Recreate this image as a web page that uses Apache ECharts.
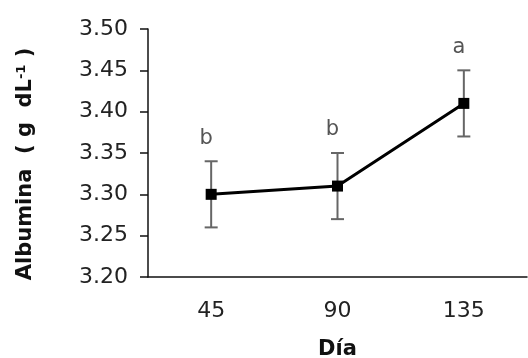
<!DOCTYPE html>
<html>
<head>
<meta charset="utf-8">
<script src="https://cdn.jsdelivr.net/npm/echarts@6/dist/echarts.min.js"></script>
<style>
  html, body { margin: 0; padding: 0; background: #fff; }
  #chart { width: 528px; height: 358px; }
</style>
</head>
<body>
<div id="chart"></div>
<script>
var days = ['45', '90', '135'];
var albumina = [3.30, 3.31, 3.41];
var errLow = [3.26, 3.27, 3.37];
var errHigh = [3.34, 3.35, 3.45];
var letters = ['b', 'b', 'a'];

var chart = echarts.init(document.getElementById('chart'));

var errData = days.map(function (d, i) {
    return [i, errLow[i], errHigh[i], letters[i]];
});

option = {
    animation: false,
    textStyle: { fontFamily: 'DejaVu Sans' },
    grid: { left: 148, right: 1, top: 29, bottom: 81, outerBoundsMode: 'none', containLabel: false },
    xAxis: {
        type: 'category',
        data: days,
        boundaryGap: true,
        name: 'Día',
        nameLocation: 'middle',
        nameGap: 62,
        nameTextStyle: { fontSize: 21, fontWeight: 'bold', color: '#111' },
        axisLine: { lineStyle: { color: '#111', width: 1.5 } },
        axisTick: { length: 8, lineStyle: { color: '#111', width: 1.5 } },
        axisLabel: { fontSize: 22, color: '#222', margin: 23 }
    },
    yAxis: {
        type: 'value',
        min: 3.20,
        max: 3.50,
        interval: 0.05,
        name: '{n|Albumina  ( g  dL}{s|-1}{n| )}{n|   }',
        nameLocation: 'middle',
        nameGap: 112,
        nameRotate: 90,
        nameTextStyle: {
            rich: {
                n: { fontSize: 21, fontWeight: 'bold', color: '#111', fontFamily: 'DejaVu Sans' },
                s: { fontSize: 13, fontWeight: 'bold', color: '#111', fontFamily: 'DejaVu Sans', verticalAlign: 'top', padding: [0, 0, 8, 0] }
            }
        },
        splitLine: { show: false },
        axisLine: { show: true, lineStyle: { color: '#111', width: 1.5 } },
        axisTick: { show: true, length: 8, lineStyle: { color: '#111', width: 1.5 } },
        axisLabel: {
            fontSize: 22,
            color: '#222',
            margin: 20,
            formatter: function (v) { return v.toFixed(2); }
        }
    },
    series: [
        {
            type: 'custom',
            data: errData,
            z: 1,
            renderItem: function (params, api) {
                var x = api.value(0);
                var lo = api.coord([x, api.value(1)]);
                var hi = api.coord([x, api.value(2)]);
                var hw = 6.5;
                var st = { stroke: '#666', lineWidth: 2 };
                return {
                    type: 'group',
                    children: [
                        { type: 'line', shape: { x1: lo[0], y1: lo[1], x2: hi[0], y2: hi[1] }, style: st },
                        { type: 'line', shape: { x1: lo[0] - hw, y1: lo[1], x2: lo[0] + hw, y2: lo[1] }, style: st },
                        { type: 'line', shape: { x1: hi[0] - hw, y1: hi[1], x2: hi[0] + hw, y2: hi[1] }, style: st },
                        {
                            type: 'text',
                            style: {
                                text: api.value(3),
                                x: hi[0] - 5,
                                y: hi[1] - 23,
                                align: 'center',
                                verticalAlign: 'middle',
                                fontSize: 21,
                                fontFamily: 'DejaVu Sans',
                                fill: '#555'
                            }
                        }
                    ]
                };
            }
        },
        {
            type: 'line',
            data: albumina,
            z: 2,
            symbol: 'rect',
            symbolSize: 11,
            itemStyle: { color: '#000' },
            lineStyle: { color: '#000', width: 3 }
        }
    ]
};
chart.setOption(option);
</script>
</body>
</html>
